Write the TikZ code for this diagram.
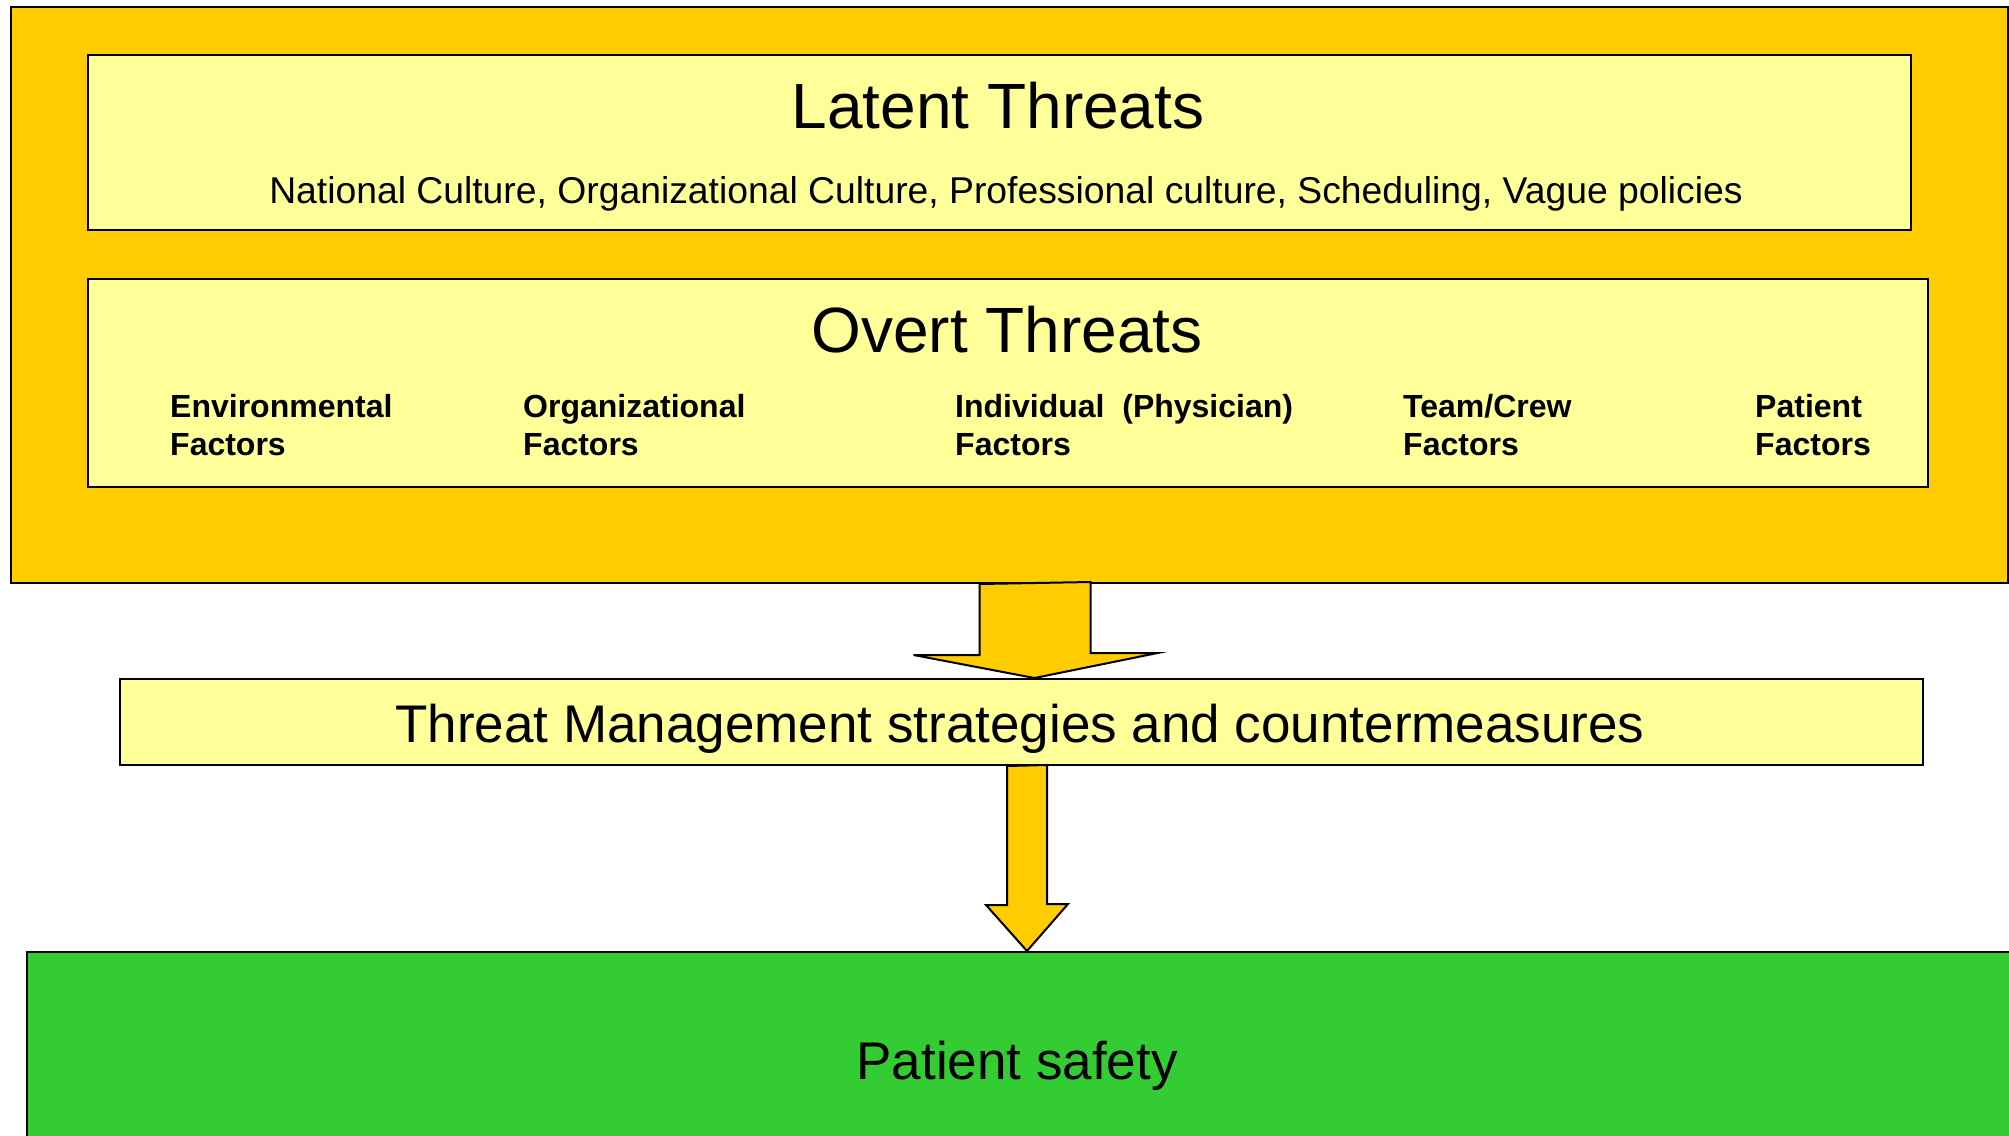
\documentclass[tikz,border=0pt]{standalone}
\usepackage{fontspec}
\setmainfont{Liberation Sans}
\usetikzlibrary{positioning,calc}
\tikzset{panel/.style={draw=black,line width=2pt,inner sep=0pt,anchor=north west},
         heading/.style={font=\fontsize{64}{77}\selectfont,anchor=base,inner sep=0pt},
         factor/.style={font=\fontsize{32}{38}\selectfont\bfseries,align=left,anchor=base west,inner sep=0pt},
         blockarrow/.style={fill=gold,draw=black,line width=2pt,line join=miter}}

\begin{document}
\begin{tikzpicture}[x=1pt,y=-1pt]
                \definecolor{gold}{HTML}{FFCC00}
                \definecolor{pale}{HTML}{FFFF99}
                \definecolor{leaf}{HTML}{33CC33}

                \useasboundingbox (0,0) rectangle (2009,1135);
                \clip (0,0) rectangle (2009,1135);

                % threat panels
                \node [panel,fill=gold,minimum width=1997pt,minimum height=576pt] (outer) at (10,6) {};
                \node [panel,fill=pale,minimum width=1823pt,minimum height=175pt] (latent) at (87,54) {};
                \node [panel,fill=pale,minimum width=1840pt,minimum height=208pt] (overt) at (87,278) {};

                \node [heading] (latenttitle) at (998,128) {Latent Threats};
                \node [font=\fontsize{37.3}{44}\selectfont,anchor=base,inner sep=0pt] (latentlist) at (1006,203)
                    {National Culture, Organizational Culture, Professional culture, Scheduling, Vague policies};
                \node [heading] (overttitle) at (1007,352) {Overt Threats};

                % base anchor sits on the second line
                \node [factor] (envf) at (170,455) {Environmental\\Factors};
                \node [factor] (orgf) at (523,455) {Organizational\\Factors};
                \node [factor] (indf) at (955,455) {Individual\ \ (Physician)\\Factors};
                \node [factor] (teamf) at (1403,455) {Team/Crew\\Factors};
                \node [factor] (patf) at (1755,455) {Patient\\Factors};

                % strategies and outcome
                \node [panel,fill=pale,minimum width=1803pt,minimum height=86pt] (tm) at (119,678) {};
                \node [font=\fontsize{53}{64}\selectfont,anchor=base,inner sep=0pt] (tmtext) at (1020,742)
                    {Threat Management strategies and countermeasures};
                \node [panel,fill=leaf,minimum width=2100pt,minimum height=300pt] (safety) at (26,951) {};
                \node [font=\fontsize{53}{64}\selectfont,anchor=base,inner sep=0pt] (safetytext) at (1017,1079)
                    {Patient safety};

                % block arrows
                \coordinate (a1top) at ([xshift=25pt]outer.south);
                \coordinate (a1tip) at (a1top |- tm.north);
                \draw [blockarrow] (a1top) ++(-55,0)
                    -- ++(0,71) -- ++(-66,0)
                    -- (a1tip)
                    -- ++(123,-25) -- ++(-67,0)
                    -- ++(0,-71) -- cycle
                ;
                \coordinate (a2top) at ([xshift=5.5pt]tm.south);
                \coordinate (a2tip) at (a2top |- safety.north);
                \draw [blockarrow] (a2top) ++(-20,0)
                    -- ++(0,139) -- ++(-21,0)
                    -- (a2tip)
                    -- ++(41,-47) -- ++(-21,0)
                    -- ++(0,-139) -- cycle
                ;
            \end{tikzpicture}
\end{document}
